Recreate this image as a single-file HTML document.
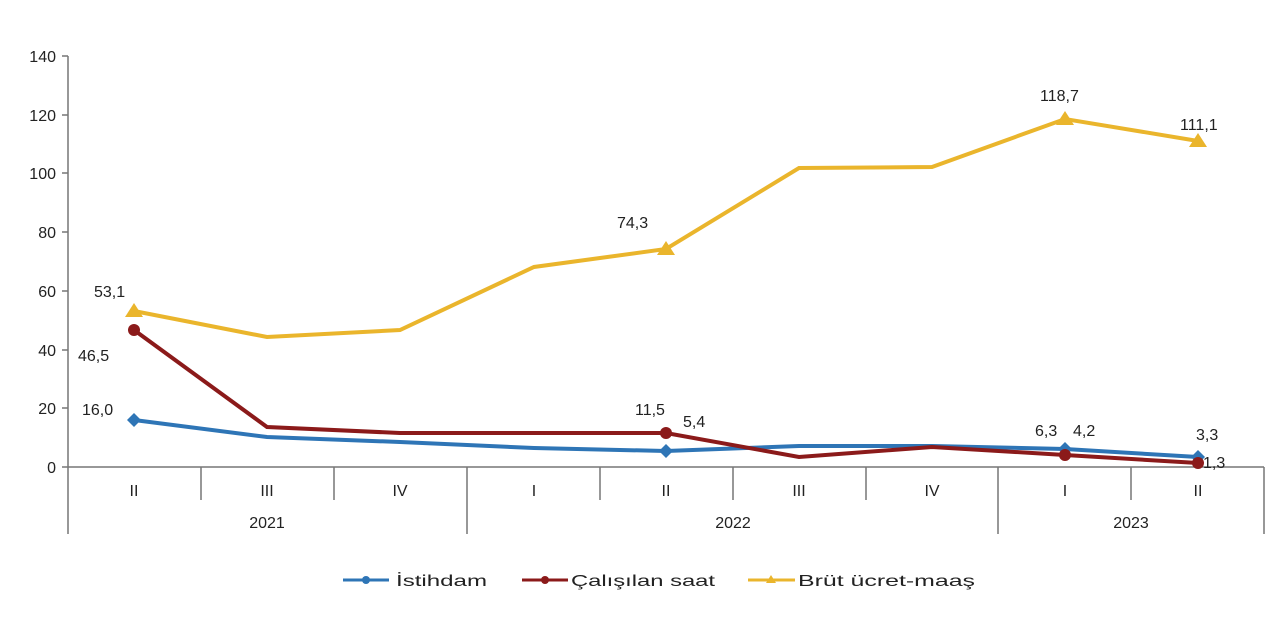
<!DOCTYPE html>
<html><head><meta charset="utf-8"><style>body{margin:0;background:#fff}svg{display:block}text{font-family:"Liberation Sans",sans-serif;fill:#222}</style></head><body>
<svg width="1280" height="640" viewBox="0 0 1280 640" xmlns="http://www.w3.org/2000/svg">
<g stroke="#777" stroke-width="1.5" fill="none">
<line x1="68" y1="56" x2="68" y2="534"/>
<line x1="68" y1="467" x2="1264" y2="467"/>
<path d="M62 56H68M62 115H68M62 173H68M62 232H68M62 291H68M62 350H68M62 408H68M62 467H68"/>
<path d="M201 467V500M334 467V500M600 467V500M733 467V500M866 467V500M1131 467V500M467 467V534M998 467V534M1264 467V534"/>
</g>
<g font-size="16" text-anchor="end">
<text x="56" y="62">140</text><text x="56" y="121">120</text><text x="56" y="179">100</text><text x="56" y="238">80</text><text x="56" y="297">60</text><text x="56" y="356">40</text><text x="56" y="414">20</text><text x="56" y="473">0</text>
</g>
<g font-size="16" text-anchor="middle">
<text x="134" y="496">II</text><text x="267" y="496">III</text><text x="400" y="496">IV</text><text x="534" y="496">I</text><text x="666" y="496">II</text><text x="799" y="496">III</text><text x="932" y="496">IV</text><text x="1065" y="496">I</text><text x="1198" y="496">II</text>
<text x="267" y="528">2021</text><text x="733" y="528">2022</text><text x="1131" y="528">2023</text>
</g>
<polyline fill="none" stroke="#eab52c" stroke-width="4" points="134,311 267,337 400,330 534,267 666,249 799,168 932,167 1065,119 1198,141"/>
<g fill="#eab52c"><path d="M134 303l9 14h-18z"/><path d="M666 241l9 14h-18z"/><path d="M1065 111l9 14h-18z"/><path d="M1198 133l9 14h-18z"/></g>
<polyline fill="none" stroke="#2e75b6" stroke-width="4" points="134,420 267,437 400,442 534,448 666,451 799,446 932,446 1065,449 1198,457"/>
<g fill="#2e75b6"><path d="M134 413l7 7-7 7-7-7z"/><path d="M666 444l7 7-7 7-7-7z"/><path d="M1065 442l7 7-7 7-7-7z"/><path d="M1198 450l7 7-7 7-7-7z"/></g>
<polyline fill="none" stroke="#8b1a1a" stroke-width="4" points="134,330 267,427 400,433 534,433 666,433 799,457 932,447 1065,455 1198,463"/>
<g fill="#8b1a1a"><circle cx="134" cy="330" r="6"/><circle cx="666" cy="433" r="6"/><circle cx="1065" cy="455" r="6"/><circle cx="1198" cy="463" r="6"/></g>
<g font-size="16">
<text x="94" y="297">53,1</text><text x="78" y="361">46,5</text><text x="82" y="415">16,0</text>
<text x="617" y="228">74,3</text><text x="635" y="415">11,5</text><text x="683" y="427">5,4</text>
<text x="1040" y="101">118,7</text><text x="1180" y="130">111,1</text>
<text x="1035" y="436">6,3</text><text x="1073" y="436">4,2</text><text x="1196" y="440">3,3</text><text x="1203" y="468">1,3</text>
</g>
<g stroke-width="3"><line x1="343" y1="580" x2="389" y2="580" stroke="#2e75b6"/><line x1="522" y1="580" x2="568" y2="580" stroke="#8b1a1a"/><line x1="748" y1="580" x2="795" y2="580" stroke="#eab52c"/></g>
<circle cx="366" cy="580" r="4" fill="#2e75b6"/><circle cx="545" cy="580" r="4" fill="#8b1a1a"/><path d="M771 575l5 8h-10z" fill="#eab52c"/>
<g font-size="16"><text x="396" y="586" textLength="91" lengthAdjust="spacingAndGlyphs">İstihdam</text><text x="571" y="586" textLength="144" lengthAdjust="spacingAndGlyphs">Çalışılan saat</text><text x="798" y="586" textLength="177" lengthAdjust="spacingAndGlyphs">Brüt ücret-maaş</text></g>
</svg>
</body></html>
